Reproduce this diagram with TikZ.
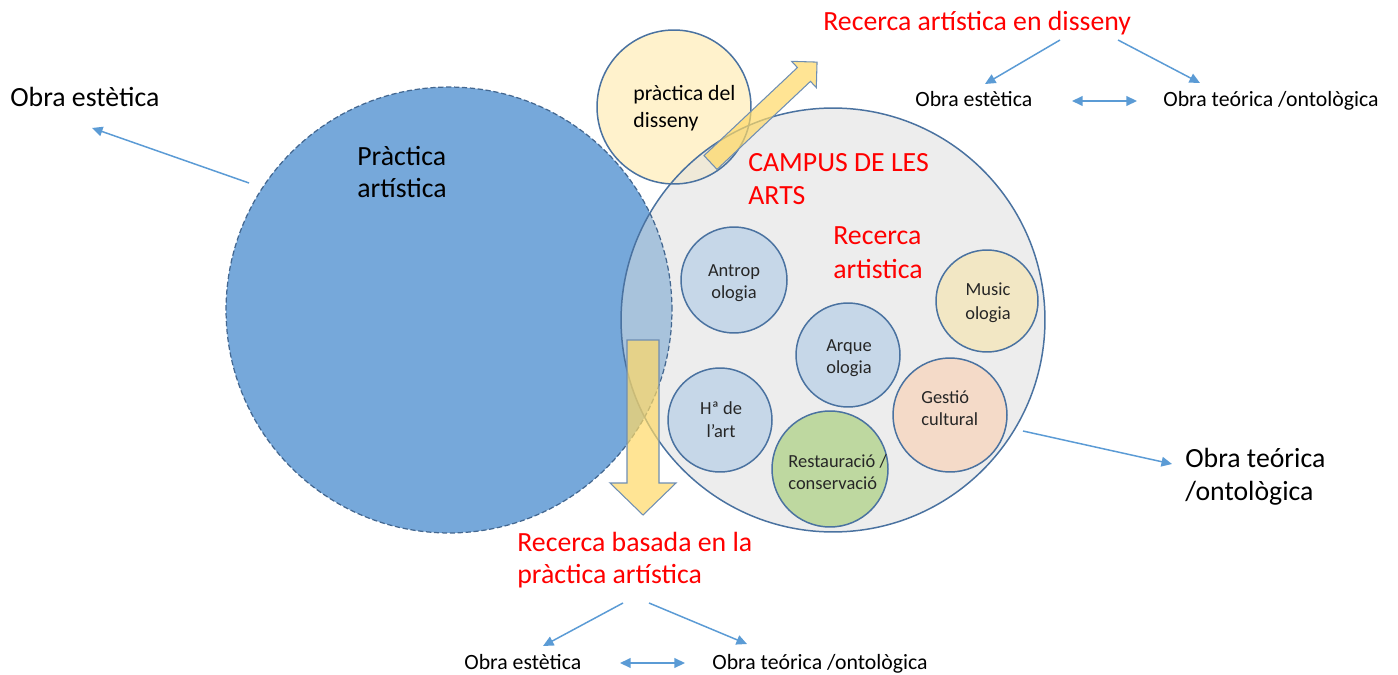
\documentclass[tikz,border=0pt]{standalone}
\usepackage{fontspec}
\setmainfont{Carlito}
\usetikzlibrary{arrows.meta}
\definecolor{pblue}{HTML}{76A8DA}
\definecolor{ovblue}{HTML}{A8C3DC}
\definecolor{cgrey}{HTML}{EDEDED}
\definecolor{dyellow}{HTML}{FFF2CC}
\definecolor{ovdes}{HTML}{EFE9D8}
\definecolor{edgec}{HTML}{4A72A0}
\definecolor{sblue}{HTML}{C6D7E8}
\definecolor{smusic}{HTML}{F2E7C4}
\definecolor{sgest}{HTML}{F4DAC8}
\definecolor{srest}{HTML}{BED8A0}
\definecolor{arrc}{HTML}{5B9BD5}
\definecolor{ayellow}{HTML}{FFD966}
\definecolor{redtxt}{HTML}{FF0000}
\tikzset{
  circ/.style={circle, inner sep=0pt, outer sep=0pt},
  small/.style={circ, draw=edgec, line width=0.85pt},
  big/.style={font=\fontsize{15.8}{19}\selectfont, inner sep=0pt},
  bigred/.style={big, text=redtxt},
  smalltxt/.style={font=\fontsize{12.4}{15}\selectfont, inner sep=0pt},
  tiny/.style={font=\fontsize{10.5}{13}\selectfont, inner sep=0pt, text=black!85},
  conn/.style={draw=arrc, line width=0.85pt, -{Triangle[length=6pt,width=5.5pt]}},
  dconn/.style={draw=arrc, line width=0.85pt, {Triangle[length=6pt,width=5.5pt]}-{Triangle[length=6pt,width=5.5pt]}},
  blockarrow/.style={fill=ayellow, fill opacity=0.7, draw=edgec!80, line width=0.6pt, line join=miter}
}
\begin{document}
\begin{tikzpicture}[x=0.02cm,y=-0.02cm]
\useasboundingbox (0,0) rectangle (1398,675);
% main circles (fills)
\node[circ, fill=pblue, minimum size=8.92cm] (prac) at (449,310) {};
\node[circ, fill=cgrey, minimum size=8.48cm] (campus) at (833,320) {};
\node[circ, fill=dyellow, minimum size=3.08cm] (dis) at (674,107) {};
% overlaps
\begin{scope}
  \clip (prac.center) circle[radius=4.46cm];
  \fill[ovblue] (campus.center) circle[radius=4.24cm];
\end{scope}
\begin{scope}
  \clip (dis.center) circle[radius=1.54cm];
  \fill[ovdes] (campus.center) circle[radius=4.24cm];
\end{scope}
% borders
\draw[edgec!90!black, line width=0.7pt, dash pattern=on 3pt off 1.5pt] (prac.center) circle[radius=4.46cm];
\draw[edgec, line width=0.85pt] (campus.center) circle[radius=4.24cm];
\draw[edgec, line width=0.85pt] (dis.center) circle[radius=1.54cm];
% small circles
\node[small, fill=sblue, minimum size=2.12cm] (antrop) at (734,280) {};
\node[small, fill=smusic, minimum size=2.04cm] (music) at (987,301) {};
\node[small, fill=sblue, minimum size=2.08cm] (arque) at (848,355) {};
\node[small, fill=sblue, minimum size=2.08cm] (hart) at (720,420) {};
\node[small, fill=srest, minimum size=2.32cm] (rest) at (830,469) {};
\node[small, fill=sgest, minimum size=2.28cm] (gest) at (950,415) {};
% block arrows
\path[blockarrow] (627,340) -- (659,340) -- (659,483) -- (676,483) -- (643,515) -- (610,483) -- (627,483) -- cycle;
\begin{scope}[shift={(710.5,162.5)}, rotate=43.3]
  \path[blockarrow] (0,-9.5) -- (128.4,-9.5) -- (128.4,-18) -- (146.4,0) -- (128.4,18) -- (128.4,9.5) -- (0,9.5) -- cycle;
\end{scope}
% texts
\node[big, anchor=base west] (oeL) at (10,107) {Obra estètica};
\node[big, anchor=base west] (pr1) at (357,166) {Pràctica};
\node[big, anchor=base west] (pr2) at (357,198) {artística};
\node[big, anchor=base west] (otR1) at (1185,467) {Obra teórica};
\node[big, anchor=base west] (otR2) at (1185,500) {/ontològica};
\node[bigred, anchor=base west] (rad) at (823,31) {Recerca artística en disseny};
\node[smalltxt, anchor=base west] (oeT) at (915,107) {Obra estètica};
\node[smalltxt, anchor=base west] (otT) at (1163,107) {Obra teórica /ontològica};
\node[bigred, anchor=base west] (cam1) at (748,172) {CAMPUS DE LES};
\node[bigred, anchor=base west] (cam2) at (748,205) {ARTS};
\node[bigred, anchor=base west] (ra1) at (833,245) {Recerca};
\node[bigred, anchor=base west] (ra2) at (833,278) {artistica};
\node[smalltxt, anchor=base west] (pd1) at (633,101) {pràctica del};
\node[smalltxt, anchor=base west] (pd2) at (633,128) {disseny};
\node[bigred, anchor=base west] (rb1) at (517,551) {Recerca basada en la};
\node[bigred, anchor=base west] (rb2) at (517,583) {pràctica artística};
\node[smalltxt, anchor=base west] (oeB) at (464,669) {Obra estètica};
\node[smalltxt, anchor=base west] (otB) at (712,669) {Obra teórica /ontològica};
% small circle labels
\node[tiny, anchor=base] (antrop1) at (734,276) {Antrop};
\node[tiny, anchor=base] (antrop2) at (734,298) {ologia};
\node[tiny, anchor=base] (music1) at (988,296) {Music};
\node[tiny, anchor=base] (music2) at (988,319) {ologia};
\node[tiny, anchor=base] (arque1) at (849,351) {Arque};
\node[tiny, anchor=base] (arque2) at (849,373) {ologia};
\node[tiny, anchor=base] (hart1) at (721,414) {Hª de};
\node[tiny, anchor=base] (hart2) at (721,437) {l’art};
\node[tiny, anchor=base west] (gest1) at (921,403) {Gestió};
\node[tiny, anchor=base west] (gest2) at (921,425) {cultural};
\node[tiny, anchor=base west] (rest1) at (788,467) {Restauració /};
\node[tiny, anchor=base west] (rest2) at (788,489) {conservació};
% connector end points
\coordinate (cL0) at (249,183); \coordinate (cL1) at (92,128);
\coordinate (cR0) at (1023,431); \coordinate (cR1) at (1172,464);
\coordinate (cT0) at (1060,40); \coordinate (cT1) at (985,84);
\coordinate (cT2) at (1118,40); \coordinate (cT3) at (1200,83);
\coordinate (cT4) at (1072,101); \coordinate (cT5) at (1137,101);
\coordinate (cB0) at (623,603); \coordinate (cB1) at (543,646);
\coordinate (cB2) at (649,603); \coordinate (cB3) at (747,644);
\coordinate (cB4) at (620,663); \coordinate (cB5) at (685,663);
\draw[conn] (cL0) -- (cL1);
\draw[conn] (cR0) -- (cR1);
\draw[conn] (cT0) -- (cT1);
\draw[conn] (cT2) -- (cT3);
\draw[dconn] (cT4) -- (cT5);
\draw[conn] (cB0) -- (cB1);
\draw[conn] (cB2) -- (cB3);
\draw[dconn] (cB4) -- (cB5);
\end{tikzpicture}
\end{document}
